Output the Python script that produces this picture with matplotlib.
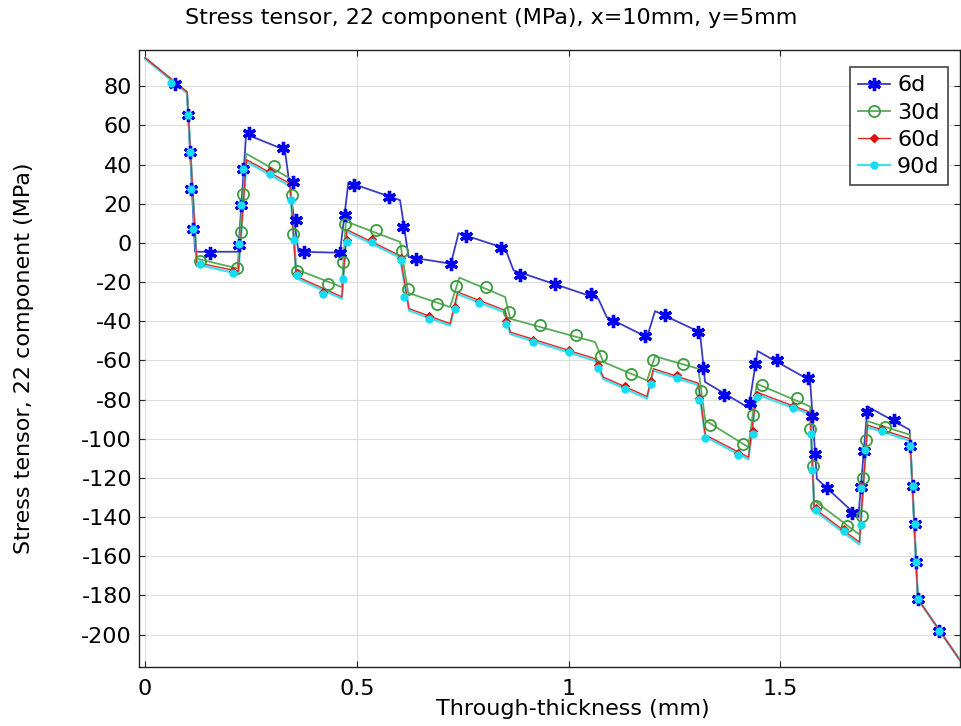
import matplotlib
matplotlib.use("Agg")
import matplotlib.pyplot as plt
from matplotlib.lines import Line2D

# ---------------- data ----------------
labels = ["6d", "30d", "60d", "90d"]

# polyline vertices (through-thickness mm, stress MPa)
x_6d = [0, 0.099, 0.118, 0.220, 0.2385, 0.330, 0.362, 0.460, 0.480, 0.602, 0.622, 0.722,
        0.740, 0.850, 0.870, 1.070, 1.090, 1.185, 1.204, 1.310, 1.322, 1.425, 1.446,
        1.570, 1.586, 1.684, 1.7055, 1.805, 1.8245, 1.93]
y_6d = [94.5, 77, -4.5, -4.5, 55.5, 47.5, -4.5, -5.0, 31, 21.8, -7.2, -10.6,
        5, -2.8, -14, -28.5, -37.9, -48.1, -34.8, -45.6, -71, -84.2, -55.2,
        -70.2, -120.4, -140, -83.5, -95.4, -181.8, -215]

x_30d = [0, 0.099, 0.122, 0.218, 0.2385, 0.342, 0.357, 0.4645, 0.474, 0.602, 0.621, 0.720,
         0.742, 0.850, 0.862, 1.0625, 1.082, 1.185, 1.204, 1.306, 1.3225, 1.4245, 1.444,
         1.570, 1.5797, 1.6865, 1.7055, 1.806, 1.8245, 1.93]
y_30d = [94.5, 77, -8, -13, 45.6, 33, -13.5, -22.5, 11, 0.5, -25.5, -32.7,
         -17.7, -27.6, -38.7, -50.6, -60.8, -70.2, -57.9, -64.2, -90.6, -104.3, -71.9,
         -83.5, -131.5, -148.9, -91, -98, -181.8, -215]

x_60d = [0, 0.099, 0.122, 0.220, 0.2395, 0.342, 0.357, 0.4645, 0.476, 0.602, 0.623, 0.720,
         0.738, 0.850, 0.862, 1.0625, 1.082, 1.185, 1.200, 1.306, 1.3225, 1.4245, 1.444,
         1.570, 1.5797, 1.6865, 1.7055, 1.806, 1.8245, 1.93]
y_60d = [94.5, 77, -10, -14.5, 42.5, 30.3, -17, -27.5, 6.8, -6.5, -33.5, -41.2,
         -25.1, -34.4, -45.5, -59.1, -68.5, -78.4, -64.2, -71.6, -98, -109.4, -76.2,
         -86.4, -135.5, -152.8, -93, -100, -181.8, -215]

x_90d = [0, 0.099, 0.122, 0.220, 0.2395, 0.342, 0.357, 0.4645, 0.476, 0.602, 0.623, 0.720,
         0.738, 0.850, 0.862, 1.0625, 1.082, 1.185, 1.200, 1.306, 1.3225, 1.4245, 1.444,
         1.570, 1.5797, 1.6865, 1.7055, 1.806, 1.8245, 1.93]
y_90d = [94, 76.5, -11, -15.8, 41.5, 29, -18, -28.5, 5.8, -7.5, -34.5, -42.2,
         -26.2, -35.5, -46.5, -60.2, -69.5, -79.5, -65.2, -72.6, -99, -110.5, -77.3,
         -87.4, -136.5, -154, -94, -101, -181.8, -215]

# marker positions
mx_6d = [0.0708, 0.102, 0.105, 0.1085, 0.113, 0.1535, 0.2215, 0.2267, 0.232, 0.2456,
         0.3266, 0.3488, 0.3558, 0.3754, 0.4604, 0.4723, 0.4935, 0.5769, 0.610, 0.639,
         0.7225, 0.758, 0.8406, 0.8855, 0.968, 1.0524, 1.1058, 1.1806, 1.2279, 1.3065,
         1.3169, 1.3672, 1.427, 1.4404, 1.4916, 1.5662, 1.575, 1.581, 1.6097, 1.6687,
         1.690, 1.6961, 1.7041, 1.767, 1.806, 1.812, 1.8165, 1.820, 1.8245, 1.8755]
my_6d = [81.4, 65.2, 46.5, 27.4, 7.3, -5.0, -1.0, 19.2, 38, 56,
         48.7, 31.1, 11.5, -4.4, -5.1, 14.1, 29.4, 23.5, 8.1, -8,
         -10.6, 3.5, -2.4, -16.6, -20.8, -26.3, -40.1, -47.7, -37, -45.5,
         -63.7, -77.4, -81.6, -62, -59.6, -69, -88.2, -107.6, -125, -137.8,
         -124.7, -106, -86.4, -90.6, -103.8, -123.9, -143.4, -163, -181.8, -198]

mx_30d = [0.130, 0.218, 0.2265, 0.230, 0.305, 0.3465, 0.350, 0.3575, 0.431, 0.4672,
          0.472, 0.545, 0.606, 0.620, 0.689, 0.734, 0.8045, 0.8595, 0.933, 1.017,
          1.077, 1.1475, 1.199, 1.271, 1.312, 1.3325, 1.4105, 1.435, 1.4575, 1.539,
          1.5705, 1.5765, 1.5845, 1.657, 1.692, 1.6945, 1.7025, 1.747]
my_30d = [-9.4, -12.8, 5.6, 25.2, 39.1, 24.3, 4.7, -14.5, -20.8, -9.7,
          9.9, 6.4, -4.1, -23.4, -31.4, -22.2, -22.5, -35.3, -42.1, -46.9,
          -57.9, -67.1, -60, -61.7, -75.7, -93.2, -102.6, -88.1, -72.3, -79.3,
          -95, -113.9, -134.1, -144.7, -139.2, -119.9, -100.5, -94.1]

mx_60d = [0.2085, 0.295, 0.3596, 0.421, 0.4763, 0.5353, 0.6045, 0.6713, 0.732, 0.7894,
          0.8517, 0.9169, 1.0012, 1.069, 1.1334, 1.1941, 1.2555, 1.3088, 1.3995, 1.435,
          1.4458, 1.5294, 1.5837, 1.6489, 1.690, 1.7395]
my_60d = [-14.2, 36.5, -15.5, -25.2, 1.5, 1.8, -7.8, -37.5, -32.5, -29.5,
          -40, -49.3, -54.5, -62.5, -73, -70.5, -67.5, -79, -107, -96,
          -77.5, -83, -135.5, -146, -124, -95]

mx_90d = [0.0607, 0.102, 0.105, 0.1085, 0.113, 0.130, 0.2085, 0.2227, 0.2267, 0.232,
          0.295, 0.3447, 0.3518, 0.3596, 0.421, 0.4668, 0.4763, 0.5353, 0.6045, 0.6123,
          0.6713, 0.732, 0.7894, 0.8517, 0.9169, 1.0012, 1.069, 1.1334, 1.1941, 1.2555,
          1.3088, 1.3223, 1.3995, 1.435, 1.4458, 1.5294, 1.5719, 1.575, 1.5837, 1.6489,
          1.690, 1.690, 1.7001, 1.7395, 1.806, 1.812, 1.8165, 1.820, 1.8245, 1.8755]
my_90d = [81.5, 65.2, 46.5, 27.4, 7.3, -10.6, -15.4, -0.4, 19.2, 38,
          35.4, 21.8, 1.7, -16.6, -26.3, -18.2, 0.5, 0.5, -8.9, -27.6,
          -38.7, -33.6, -30.7, -41.2, -50.6, -55.7, -63.7, -74.4, -71.9, -68.8,
          -80.4, -99.5, -108.2, -97.5, -78.7, -84.2, -97.5, -115.8, -136.6, -147.2,
          -143.8, -125, -105.5, -96.1, -103.8, -123.9, -143.4, -163, -181.8, -198]

x_ticks = [0, 0.5, 1, 1.5]
x_ticklabels = ["0", "0.5", "1", "1.5"]
y_ticks = [80, 60, 40, 20, 0, -20, -40, -60, -80, -100, -120, -140, -160, -180, -200]

# ---------------- style ----------------
plt.rcParams['font.family'] = ['DejaVu Sans']
plt.rcParams['axes.unicode_minus'] = False
fig = plt.figure(figsize=(9.61, 7.26), dpi=100)
ax = fig.add_axes([0.1446, 0.0813, 0.8544, 0.8498])

line_cols = {"6d": "#3a3ac4", "30d": "#5aaa5a", "60d": "#e02a2a", "90d": "#3fe0f0"}
mk_cols = {"6d": "#0000ee", "30d": "#3c9c3c", "60d": "#e01010", "90d": "#15dcf0"}

ax.plot(x_6d, y_6d, color=line_cols["6d"], lw=1.3, zorder=3)
ax.plot(x_30d, y_30d, color=line_cols["30d"], lw=1.3, zorder=3)
ax.plot(x_90d, y_90d, color=line_cols["90d"], lw=1.6, zorder=3)
ax.plot(x_60d, y_60d, color=line_cols["60d"], lw=1.0, zorder=3)

ast = (6, 2, 0)
ax.plot(mx_6d, my_6d, ls='none', marker=ast, ms=9.5, mew=2.4, color=mk_cols["6d"], zorder=4)
ax.plot(mx_30d, my_30d, ls='none', marker='o', ms=8, mew=1.3, mfc='none', mec=mk_cols["30d"], zorder=4)
ax.plot(mx_60d, my_60d, ls='none', marker='D', ms=4, mew=0.8, color=mk_cols["60d"], zorder=4)
ax.plot(mx_90d, my_90d, ls='none', marker='o', ms=6, mew=0, color=mk_cols["90d"], zorder=5)

ax.set_xlim(-0.0145, 1.924)
ax.set_ylim(-216.5, 98.5)
ax.set_xticks(x_ticks)
ax.set_xticklabels(x_ticklabels)
ax.set_yticks(y_ticks)
ax.tick_params(axis='both', direction='in', top=True, right=True, labelsize=16,
               length=4, width=0.8, colors='#222222', labelcolor='black')
ax.tick_params(axis='x', pad=9)
ax.tick_params(axis='y', pad=5)
ax.grid(True, color='#dddddd', lw=0.8, zorder=0)
ax.set_axisbelow(True)
for s in ax.spines.values():
    s.set_color('#222222')
    s.set_linewidth(1.0)

ax.set_xlabel("Through-thickness (mm)", fontsize=16)
ax.xaxis.set_label_coords(0.529, -0.052)
ax.set_ylabel("Stress tensor, 22 component (MPa)", fontsize=16, labelpad=34)
fig.text(0.511, 0.975, "Stress tensor, 22 component (MPa), x=10mm, y=5mm",
         ha='center', va='center', fontsize=16)

handles = [
    Line2D([], [], color=line_cols["6d"], lw=1.3, marker=ast, ms=9.5, mew=2.4, mec=mk_cols["6d"]),
    Line2D([], [], color=line_cols["30d"], lw=1.3, marker='o', ms=8, mew=1.3, mfc='none', mec=mk_cols["30d"]),
    Line2D([], [], color=line_cols["60d"], lw=1.0, marker='D', ms=4, mec=mk_cols["60d"], mfc=mk_cols["60d"]),
    Line2D([], [], color=line_cols["90d"], lw=1.6, marker='o', ms=6, mew=0, mfc=mk_cols["90d"]),
]
leg = ax.legend(handles, labels, loc='upper right', bbox_to_anchor=(0.9854, 0.9724),
                borderaxespad=0, fontsize=16, handlelength=1.45, handletextpad=0.3,
                labelspacing=0.32, borderpad=0.38, fancybox=False, framealpha=1,
                edgecolor='#444444')
leg.get_frame().set_linewidth(1.2)

fig.savefig("out.png", dpi=100)
